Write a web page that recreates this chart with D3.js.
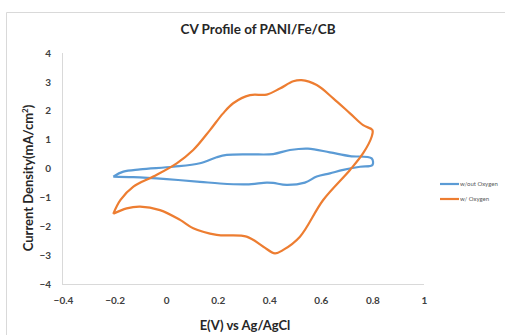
<!DOCTYPE html>
<html><head><meta charset="utf-8">
<script src="https://cdn.jsdelivr.net/npm/d3@7"></script>
<style>html,body{margin:0;padding:0;background:#fff;}svg{display:block;}</style>
</head><body>
<svg id="c" width="505" height="335"></svg>
<script>
const seriesNames = ["w/out Oxygen", "w/ Oxygen"];
const seriesColors = ["#5B9BD5", "#ED7D31"];
const xTicks = [-0.4, -0.2, 0, 0.2, 0.4, 0.6, 0.8, 1];
const yTicks = [-4, -3, -2, -1, 0, 1, 2, 3, 4];
// w/out Oxygen: [E, I] along the cycle
const noOxygen = [
  [-0.205,-0.28],[-0.166,-0.11],[-0.101,-0.03],[0.028,0.06],[0.131,0.18],[0.196,0.39],[0.235,0.47],
  [0.325,0.49],[0.415,0.5],[0.48,0.64],[0.55,0.69],[0.635,0.56],[0.713,0.43],[0.797,0.35],
  [0.80,0.12],[0.752,0.06],[0.687,-0.05],[0.635,-0.17],[0.584,-0.28],[0.538,-0.49],[0.467,-0.57],
  [0.415,-0.5],[0.39,-0.49],[0.312,-0.55],[0.209,-0.52],[0.131,-0.46],[0.002,-0.37],[-0.127,-0.30],[-0.205,-0.28]
];
// w/ Oxygen
const withOxygen = [
  [-0.205,-1.57],[-0.177,-1.09],[-0.127,-0.63],[-0.05,-0.28],[0.041,0.18],[0.105,0.64],[0.17,1.33],[0.22,1.9],[0.26,2.26],
  [0.325,2.54],[0.39,2.56],[0.441,2.77],[0.493,3.02],[0.525,3.06],[0.584,2.89],[0.648,2.43],
  [0.713,1.91],[0.764,1.5],[0.80,1.33],[0.797,1.1],[0.764,0.53],[0.713,-0.05],[0.609,-1.09],
  [0.519,-2.36],[0.454,-2.82],[0.422,-2.94],[0.377,-2.71],[0.312,-2.36],[0.196,-2.30],
  [0.105,-2.07],[0.054,-1.78],[-0.024,-1.44],[-0.101,-1.32],[-0.153,-1.38],[-0.205,-1.57]
];
const data = [noOxygen, withOxygen];

const svg = d3.select("#c");
const font = "Lato, 'Open Sans', sans-serif";
// chart frame
svg.append("path").attr("d","M6.5,400V12.5H600").attr("fill","none").attr("stroke","#d9d9d9").attr("stroke-width",1);

const x = d3.scaleLinear().domain([-0.4,1]).range([63,424]);
const y = d3.scaleLinear().domain([-4,4]).range([284,53]);

// axis lines
svg.append("line").attr("x1",62.5).attr("x2",62.5).attr("y1",53).attr("y2",284).attr("stroke","#d9d9d9");
svg.append("line").attr("x1",62).attr("x2",424).attr("y1",284.5).attr("y2",284.5).attr("stroke","#d9d9d9");

const xAxis = svg.append("g").attr("transform","translate(0,284)")
  .call(d3.axisBottom(x).tickValues(xTicks).tickSize(0).tickPadding(13).tickFormat(d=>d3.format("")(+d.toFixed(1))));
const yAxis = svg.append("g").attr("transform","translate(62,0)")
  .call(d3.axisLeft(y).tickValues(yTicks).tickSize(0).tickPadding(11));
[xAxis,yAxis].forEach(g=>{
  g.select(".domain").remove();
  g.selectAll("text").attr("font-family",font).attr("font-size",10).attr("font-weight","bold").attr("fill","#404040");
});

const line = d3.line().x(d=>x(d[0])).y(d=>y(d[1])).curve(d3.curveCatmullRom.alpha(0.5));
data.forEach((s,i)=>{
  svg.append("path").datum(s).attr("d",line).attr("fill","none")
    .attr("stroke",seriesColors[i]).attr("stroke-width",2.2).attr("stroke-linejoin","round");
});

// title
svg.append("text").attr("x",258).attr("y",34).attr("text-anchor","middle")
  .attr("font-family",font).attr("font-weight","bold").attr("font-size",13.5).attr("fill","#262626")
  .text("CV Profile of PANI/Fe/CB");
// axis titles
svg.append("text").attr("x",245).attr("y",330).attr("text-anchor","middle")
  .attr("font-family",font).attr("font-weight","bold").attr("font-size",13).attr("fill","#262626")
  .text("E(V) vs Ag/AgCl");
const yt = svg.append("text").attr("transform","translate(33,178) rotate(-90)").attr("text-anchor","middle")
  .attr("font-family",font).attr("font-weight","bold").attr("font-size",13).attr("fill","#262626");
yt.append("tspan").text("Current Density(mA/cm");
yt.append("tspan").attr("font-size",8).attr("dy",-5).text("2");
yt.append("tspan").attr("dy",5).text(")");

// legend
seriesNames.forEach((n,i)=>{
  const ly = 184 + i*15;
  svg.append("line").attr("x1",440).attr("x2",459).attr("y1",ly).attr("y2",ly)
    .attr("stroke",seriesColors[i]).attr("stroke-width",2.2);
  svg.append("text").attr("x",460).attr("y",ly+2).attr("font-family",font).attr("font-size",6)
    .attr("fill","#595959").text(n);
});
</script>
</body></html>
